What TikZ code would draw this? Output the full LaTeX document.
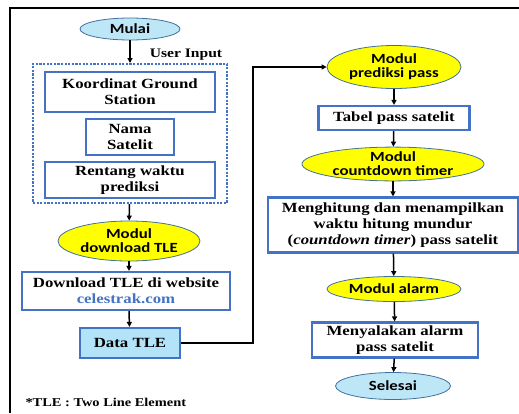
\documentclass[tikz,border=0pt]{standalone}
\usepackage{fontspec}
\setmainfont{Liberation Serif}[FakeStretch=1.2]
\newfontfamily\calib{Carlito}[FakeStretch=1.2]
\usepackage{xcolor}
\usepackage{tikz}
\usetikzlibrary{arrows.meta, positioning, shapes.geometric, calc}
\definecolor{Ink}{HTML}{000000}
\definecolor{BoxBlue}{HTML}{4472C4}
\definecolor{EdgeBlue}{HTML}{41719C}
\definecolor{Yel}{HTML}{FFFF00}
\definecolor{SoftSky}{HTML}{BDE6F7}
\definecolor{DataSky}{HTML}{B3E3F8}

\begin{document}
\begin{tikzpicture}[
  x=1pt, y=-1pt,
  font=\fontsize{14}{16}\selectfont\bfseries,
  procbox/.style={rectangle, draw=BoxBlue, line width=2.2pt, fill=white, align=center, inner sep=0pt},
  modul/.style={ellipse, draw=EdgeBlue, line width=0.8pt, fill=Yel, align=center, inner sep=0pt, font=\calib\fontsize{14}{14}\selectfont\bfseries},
  terminal/.style={ellipse, draw=EdgeBlue, line width=0.8pt, fill=SoftSky, inner sep=0pt, font=\calib\fontsize{14}{14}\selectfont\bfseries},
  arrow/.style={-{Triangle[length=5pt, width=5pt]}, line width=1.5pt, draw=Ink}
]
\useasboundingbox (0,0) rectangle (519,413);
\draw[line width=1.6pt] (10,413) -- (10,8) -- (519,8);

% left column
\node[terminal, minimum width=100, minimum height=22] (mulai) at (130,29) {Mulai};
\node[rectangle, draw=BoxBlue, line width=2pt, dash pattern=on 2.2pt off 1.4pt, minimum width=194, minimum height=139, inner sep=0pt] (input) at (130,133.5) {};
\node[font=\fontsize{13}{13}\selectfont\bfseries] (userlbl) at (186,55) {User Input};
\node[procbox, minimum width=170, minimum height=40] (koord) at (130,92) {Koordinat Ground\\Station};
\node[procbox, minimum width=88, minimum height=36] (nama) at (130,137) {Nama\\Satelit};
\node[procbox, minimum width=170, minimum height=36] (rentang) at (130,180) {Rentang waktu\\prediksi};
\node[modul, minimum width=142, minimum height=40] (modtle) at (129,241) {Modul\\download TLE};
\node[procbox, minimum width=208, minimum height=38] (dltle) at (126,291) {Download TLE di website\\\textcolor{BoxBlue}{celestrak.com}};
\node[procbox, fill=DataSky, minimum width=100, minimum height=30] (datatle) at (130,343) {Data TLE};
\node[anchor=west, font=\fontsize{12}{12}\selectfont\bfseries] (ket) at (22,402) {*TLE : Two Line Element};

% right column
\node[modul, minimum width=134, minimum height=43] (modpred) at (394,67) {Modul\\prediksi pass};
\node[procbox, minimum width=151, minimum height=24] (tabel) at (394,118) {Tabel pass satelit};
\node[modul, minimum width=182, minimum height=29] (modcd) at (393,164) {Modul\\countdown timer};
\node[procbox, minimum width=250, minimum height=55] (hitung) at (393,225) {Menghitung dan menampilkan\\waktu hitung mundur\\(\textit{countdown timer}) pass satelit};
\node[modul, minimum width=134, minimum height=25] (modalarm) at (394,289) {Modul alarm};
\node[procbox, minimum width=166, minimum height=35] (nyala) at (395,340) {Menyalakan alarm\\pass satelit};
\node[terminal, minimum width=115, minimum height=27] (selesai) at (393,386) {Selesai};

\coordinate (turn) at (253,343);

\draw[arrow] (mulai) -- (input.north);
\draw[arrow] (input) -- (modtle);
\draw[arrow] (modtle) -- (modtle |- dltle.north);
\draw[arrow] (modtle |- dltle.south) -- (datatle);
\draw[arrow] (datatle.east) -- (turn) |- (modpred.west);
\draw[arrow] (modpred) -- (tabel);
\draw[arrow] (tabel) -- (modcd);
\draw[arrow] (modcd) -- (hitung);
\draw[arrow] (hitung) -- (modalarm);
\draw[arrow] (modalarm) -- (nyala);
\draw[arrow] (nyala) -- (selesai);
\end{tikzpicture}
\end{document}
